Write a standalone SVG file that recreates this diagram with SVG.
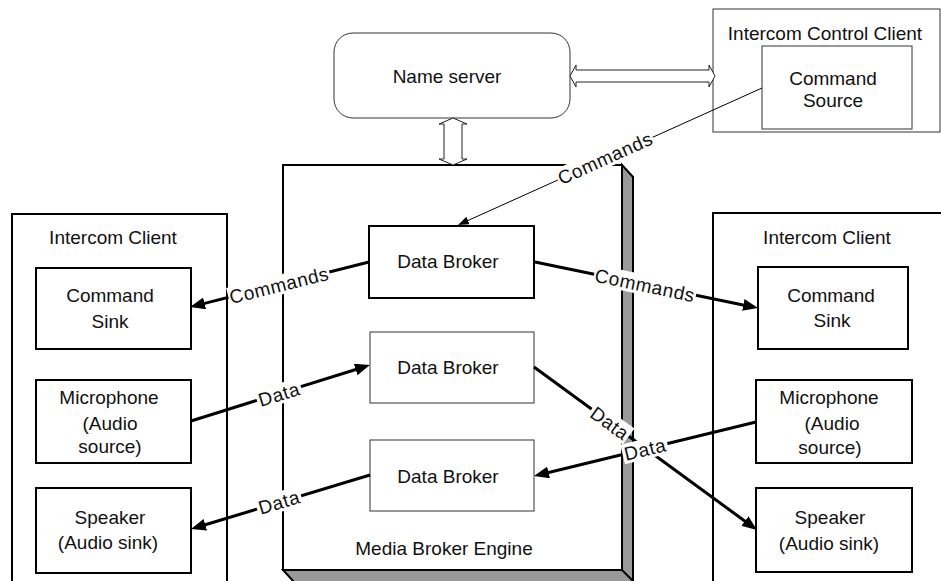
<svg xmlns="http://www.w3.org/2000/svg" width="941" height="581" viewBox="0 0 941 581">
  <style>
    text { font-family: "Liberation Sans", Arial, sans-serif; font-size: 19px; fill: #111; }
    .mid { text-anchor: middle; }
    .box { fill: #fff; stroke: #000; stroke-width: 2; }
    .thin { fill: #fff; stroke: #333; stroke-width: 1; }
    .hollow { fill: #fff; stroke: #222; stroke-width: 1; }
    .conn { fill: none; stroke: #000; stroke-width: 3; }
    .conn-thin { fill: none; stroke: #000; stroke-width: 1; }
    .lblbg { fill: #fff; stroke: none; }
  </style>
  <defs>
    <marker id="arrow" markerUnits="userSpaceOnUse" markerWidth="16" markerHeight="12" refX="1" refY="6" orient="auto">
      <path d="M0,0 L15,6 L0,12 z" fill="#000"/>
    </marker>
    <marker id="arrow-sm" markerUnits="userSpaceOnUse" markerWidth="12" markerHeight="8" refX="1" refY="4" orient="auto">
      <path d="M0,0 L11,4 L0,8 z" fill="#000"/>
    </marker>
  </defs>

  <!-- Name server -->
  <g id="name-server">
    <rect class="thin" x="334" y="33" width="236" height="85" rx="19" ry="19"/>
    <text class="mid" x="447" y="83">Name server</text>
  </g>

  <!-- Intercom Control Client with its command source -->
  <g id="control-client">
    <rect class="thin" x="713" y="9" width="227" height="123"/>
    <text class="mid" x="825" y="40">Intercom Control Client</text>
  </g>
  <g id="command-source">
    <rect class="thin" x="762" y="46" width="150" height="83"/>
    <text class="mid" x="833" y="85">Command</text>
    <text class="mid" x="833" y="107">Source</text>
  </g>

  <!-- Media Broker Engine (raised block with shadow) -->
  <g id="media-broker-engine">
    <polygon points="622,165 633,177 633,583 295,583 283,570 622,570" fill="#999" stroke="#000" stroke-width="2"/>
    <line x1="622" y1="570" x2="633" y2="581" stroke="#000" stroke-width="2"/>
    <rect class="box" x="283" y="165" width="339" height="405"/>
    <text class="mid" x="444" y="555">Media Broker Engine</text>
  </g>

  <!-- Hollow double arrows to the name server -->
  <g id="ns-links">
    <polygon class="hollow" points="570,76 576,65 576,70 709,70 709,65 715,76 709,87 709,82 576,82 576,87"/>
    <polygon class="hollow" points="453,118 467,124 462,124 462,159 467,159 453,165 439,159 444,159 444,124 439,124"/>
  </g>

  <!-- Data brokers -->
  <g id="data-broker-1">
    <rect class="box" x="369" y="226" width="165" height="72"/>
    <text class="mid" x="448" y="268">Data Broker</text>
  </g>
  <g id="data-broker-2">
    <rect class="thin" x="370" y="332" width="164" height="71"/>
    <text class="mid" x="448" y="374">Data Broker</text>
  </g>
  <g id="data-broker-3">
    <rect class="thin" x="370" y="440" width="164" height="71"/>
    <text class="mid" x="448" y="483">Data Broker</text>
  </g>

  <!-- Left intercom client -->
  <g id="left-client">
    <rect class="box" x="12" y="214" width="215" height="380"/>
    <text class="mid" x="113" y="244">Intercom Client</text>
  </g>
  <g id="left-command-sink">
    <rect class="box" x="36" y="268" width="155" height="81"/>
    <text class="mid" x="110" y="302">Command</text>
    <text class="mid" x="110" y="328">Sink</text>
  </g>
  <g id="left-microphone">
    <rect class="box" x="36" y="380" width="155" height="83"/>
    <text class="mid" x="109" y="404">Microphone</text>
    <text class="mid" x="110" y="430">(Audio</text>
    <text class="mid" x="110" y="453">source)</text>
  </g>
  <g id="left-speaker">
    <rect class="box" x="36" y="488" width="155" height="85"/>
    <text class="mid" x="110" y="524">Speaker</text>
    <text class="mid" x="108" y="549">(Audio sink)</text>
  </g>

  <!-- Right intercom client -->
  <g id="right-client">
    <rect class="box" x="713" y="213" width="240" height="380"/>
    <text class="mid" x="827" y="244">Intercom Client</text>
  </g>
  <g id="right-command-sink">
    <rect class="box" x="758" y="267" width="150" height="82"/>
    <text class="mid" x="831" y="302">Command</text>
    <text class="mid" x="832" y="327">Sink</text>
  </g>
  <g id="right-microphone">
    <rect class="box" x="756" y="380" width="156" height="83"/>
    <text class="mid" x="829" y="404">Microphone</text>
    <text class="mid" x="832" y="430">(Audio</text>
    <text class="mid" x="830" y="454">source)</text>
  </g>
  <g id="right-speaker">
    <rect class="box" x="756" y="488" width="156" height="84"/>
    <text class="mid" x="830" y="524">Speaker</text>
    <text class="mid" x="829" y="550">(Audio sink)</text>
  </g>

  <!-- Connectors and their labels -->
  <g id="connectors">
    <line class="conn-thin" x1="762" y1="88" x2="467.1" y2="220.9" marker-end="url(#arrow-sm)"/>
    <line class="conn" x1="369" y1="262" x2="203.6" y2="303.6" marker-end="url(#arrow)"/>
    <line class="conn" x1="535" y1="262" x2="744.3" y2="305.2" marker-end="url(#arrow)"/>
    <line class="conn" x1="191" y1="421" x2="356.6" y2="369.2" marker-end="url(#arrow)"/>
    <line class="conn" x1="534" y1="367" x2="745.7" y2="521.7" marker-end="url(#arrow)"/>
    <line class="conn" x1="756" y1="422" x2="547.6" y2="472.7" marker-end="url(#arrow)"/>
    <line class="conn" x1="370" y1="475" x2="204.4" y2="525" marker-end="url(#arrow)"/>

    <g transform="translate(605,158) rotate(-24.3)">
      <rect class="lblbg" x="-52" y="-10" width="104" height="20"/>
      <text class="mid" x="0" y="7" letter-spacing="0.6">Commands</text>
    </g>
    <g transform="translate(279,285) rotate(-14)">
      <rect class="lblbg" x="-52" y="-10" width="104" height="20"/>
      <text class="mid" x="0" y="7" letter-spacing="0.6">Commands</text>
    </g>
    <g transform="translate(645,285) rotate(11.8)">
      <rect class="lblbg" x="-52" y="-10" width="104" height="20"/>
      <text class="mid" x="0" y="7" letter-spacing="0.6">Commands</text>
    </g>
    <g transform="translate(279,394) rotate(-17.3)">
      <rect class="lblbg" x="-23" y="-10" width="46" height="20"/>
      <text class="mid" x="0" y="7" letter-spacing="0.6">Data</text>
    </g>
    <g transform="translate(610,423) rotate(36)">
      <rect class="lblbg" x="-23" y="-10" width="46" height="20"/>
      <text class="mid" x="0" y="7" letter-spacing="0.6">Data</text>
    </g>
    <g transform="translate(645,449) rotate(-13.6)">
      <rect class="lblbg" x="-23" y="-10" width="46" height="20"/>
      <text class="mid" x="0" y="7" letter-spacing="0.6">Data</text>
    </g>
    <g transform="translate(279,502) rotate(-16.7)">
      <rect class="lblbg" x="-23" y="-10" width="46" height="20"/>
      <text class="mid" x="0" y="7" letter-spacing="0.6">Data</text>
    </g>
  </g>
</svg>
